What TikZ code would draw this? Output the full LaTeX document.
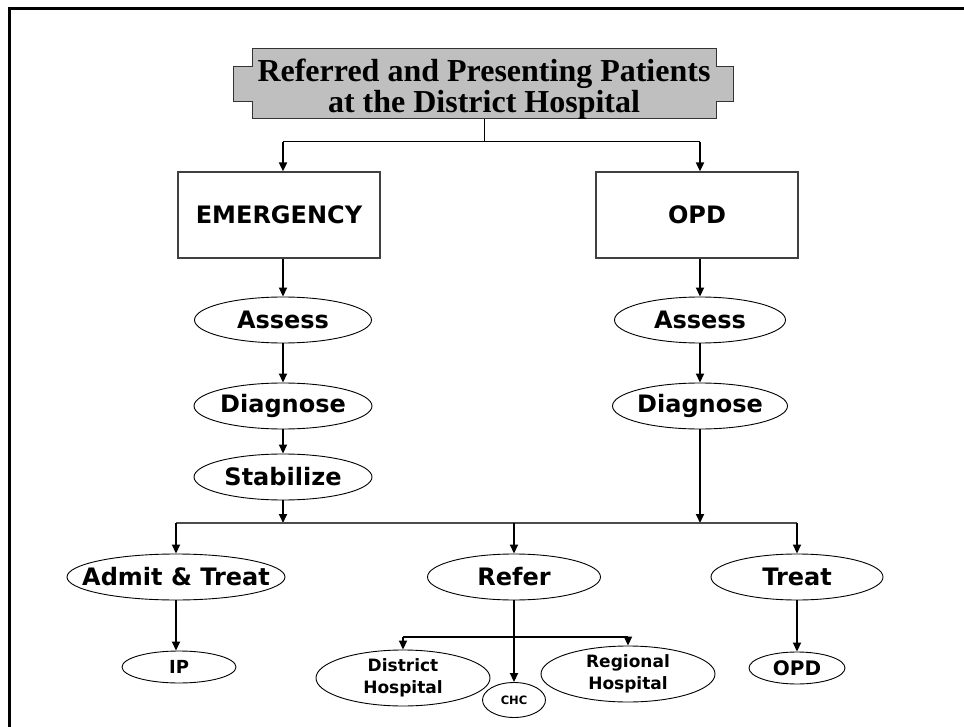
\documentclass[tikz,border=0pt]{standalone}
\usepackage{fontspec}
\setmainfont{Liberation Serif}
\newfontfamily\labfont{DejaVu Sans}
\usetikzlibrary{shapes.geometric,arrows.meta}
\begin{document}
\begin{tikzpicture}[x=1pt,y=-1pt,
  arr/.style={line width=1.8pt,-{Triangle[length=9pt,width=8pt]}},
  conn/.style={line width=1.8pt},
  thinconn/.style={line width=1pt},
  boxnode/.style={draw=black!75,line width=1.2pt,minimum width=202pt,minimum height=86pt,inner sep=0pt,font=\labfont\bfseries\fontsize{24}{28}\selectfont},
  ell/.style={ellipse,draw,line width=0.9pt,inner sep=0pt},
  lab/.style={inner sep=0pt,align=center,font=\labfont\bfseries\fontsize{24}{28}\selectfont},
  slab/.style={inner sep=0pt,align=center,font=\labfont\bfseries\fontsize{17}{22}\selectfont},
  ttl/.style={inner sep=0pt,anchor=base,font=\bfseries\fontsize{32}{36}\selectfont},
]
\useasboundingbox (0,0) rectangle (964,727);
% outer frame
\draw[line width=3pt] (964,9) -- (9,9) -- (9,727);
% title banner
\draw[fill=black!25,draw=black!80,line width=1pt]
  (252,49) -- (716,49) -- (716,67) -- (733,67) -- (733,102) -- (716,102) -- (716,119)
  -- (252,119) -- (252,102) -- (233,102) -- (233,67) -- (252,67) -- cycle;
\node[minimum width=464pt,minimum height=70pt,inner sep=0pt] (title) at (484,84) {};
\node[ttl] (title1) at (484,82) {Referred and Presenting Patients};
\node[ttl] (title2) at (484,113) {at the District Hospital};
% boxes
\node[boxnode] (emerg) at (279,215) {EMERGENCY};
\node[boxnode] (opd) at (697,215) {OPD};
% left column
\node[ell,minimum width=177pt,minimum height=46pt,label={[lab]center:Assess}] (assessL) at (283,320) {};
\node[ell,minimum width=178pt,minimum height=46pt,label={[lab]center:Diagnose}] (diagL) at (283,406) {};
\node[ell,minimum width=178pt,minimum height=46pt,label={[lab]center:Stabilize}] (stabL) at (283,477) {};
% right column
\node[ell,minimum width=171pt,minimum height=46pt,label={[lab]center:Assess}] (assessR) at (700,320) {};
\node[ell,minimum width=175pt,minimum height=46pt,label={[lab]center:Diagnose}] (diagR) at (700,406) {};
% outcomes
\node[ell,minimum width=218pt,minimum height=46pt,label={[lab]center:Admit \& Treat}] (admit) at (176,577) {};
\node[ell,minimum width=173pt,minimum height=46pt,label={[lab]center:Refer}] (refer) at (514,577) {};
\node[ell,minimum width=172pt,minimum height=46pt,label={[lab]center:Treat}] (treat) at (797,577) {};
% bottom
\node[ell,minimum width=114pt,minimum height=32pt,label={[slab,font=\labfont\bfseries\fontsize{18}{22}\selectfont]center:IP}] (ip) at (179,667) {};
\node[ell,minimum width=174pt,minimum height=56pt,label={[slab]center:District\\Hospital}] (disth) at (403,678) {};
\node[ell,minimum width=174pt,minimum height=56pt,label={[slab]center:Regional\\Hospital}] (regh) at (628,674) {};
\node[ell,minimum width=63pt,minimum height=35pt,label={[slab,font=\labfont\bfseries\fontsize{11.5}{14}\selectfont]center:CHC}] (chc) at (514,700) {};
\node[ell,minimum width=96pt,minimum height=32pt,label={[slab,font=\labfont\bfseries\fontsize{20}{24}\selectfont]center:OPD}] (opd2) at (797,668) {};
% coordinates
\coordinate (f1) at (484,142);
\coordinate (f2) at (283,523);
\coordinate (f3) at (514,637);
% connectors: top
\draw[thinconn] (title.south) -- (f1);
\draw[thinconn] (assessL |- f1) -- (assessR |- f1);
\draw[arr] (assessL |- f1) -- (assessL |- emerg.north);
\draw[arr] (assessR |- f1) -- (assessR |- opd.north);
% left column
\draw[arr] (assessL |- emerg.south) -- (assessL.north);
\draw[arr] (assessL.south) -- (diagL.north);
\draw[arr] (diagL.south) -- (stabL.north);
\draw[arr] (stabL.south) -- (f2);
% right column
\draw[arr] (assessR |- opd.south) -- (assessR.north);
\draw[arr] (assessR.south) -- (diagR.north);
\draw[arr] (diagR.south) -- (diagR.south |- f2);
% fork to outcomes
\draw[conn,draw=black!70] (admit.north |- f2) -- (treat.north |- f2);
\draw[arr] (admit.north |- f2) -- (admit.north);
\draw[arr] (refer.north |- f2) -- (refer.north);
\draw[arr] (treat.north |- f2) -- (treat.north);
% bottom
\draw[arr] (admit.south) -- (admit.south |- ip.north);
\draw[arr] (treat.south) -- (opd2.north);
\draw[arr] (refer.south) -- (chc.north);
\draw[conn] (disth.north |- f3) -- (regh.north |- f3);
\draw[arr] (disth.north |- f3) -- (disth.north);
\draw[arr] (regh.north |- f3) -- (regh.north);
\end{tikzpicture}
\end{document}
